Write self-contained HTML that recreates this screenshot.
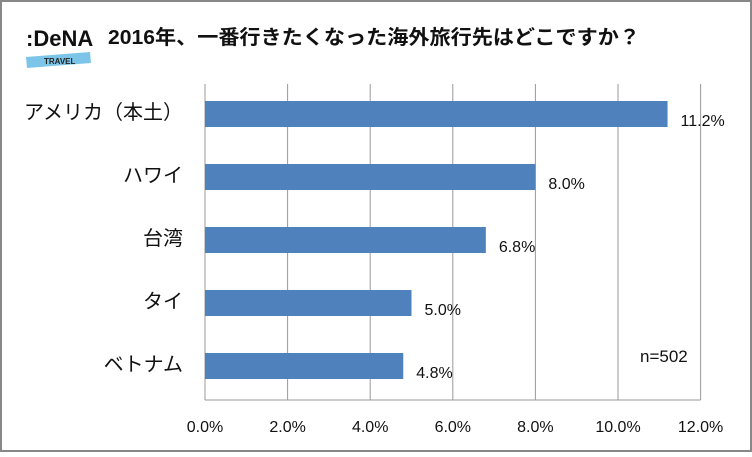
<!DOCTYPE html>
<html><head><meta charset="utf-8"><style>
body{margin:0;background:#fff}
svg text{font-family:"Liberation Sans","Noto Sans CJK JP",sans-serif}
</style></head><body>
<svg width="752" height="452" viewBox="0 0 752 452">
<rect x="1" y="1" width="750" height="450" fill="#fff" stroke="#888" stroke-width="2"/>
<g>
<text x="26" y="46" font-size="22" font-weight="bold" fill="#111" font-family="Liberation Sans, sans-serif">:DeNA</text>
<polygon points="26,57 90,52 91,63 27,68" fill="#7cc5e8"/>
<text x="44" y="64" font-size="8" font-weight="bold" fill="#222">TRAVEL</text>
</g>
<text x="108" y="44" font-size="20" font-weight="bold" fill="#111" textLength="532" lengthAdjust="spacingAndGlyphs">2016年、一番行きたくなった海外旅行先はどこですか？</text>
<g id="grid"></g><g id="bars"></g><g id="labels"></g>
<text x="640" y="362" font-size="17" fill="#111">n=502</text>
</svg>
<script>
const categories=["アメリカ（本土）","ハワイ","台湾","タイ","ベトナム"];
const values=[11.2,8.0,6.8,5.0,4.8];
const valueLabels=["11.2%","8.0%","6.8%","5.0%","4.8%"];
const ticks=[0,2,4,6,8,10,12];
const tickLabels=["0.0%","2.0%","4.0%","6.0%","8.0%","10.0%","12.0%"];
const NS="http://www.w3.org/2000/svg";
const x=v=>205+v*41.3;
const yc=i=>114+i*63;
function mk(t,a,p,txt){const e=document.createElementNS(NS,t);for(const k in a)e.setAttribute(k,a[k]);if(txt!=null)e.textContent=txt;p.appendChild(e);return e;}
const g=document.getElementById('grid'),b=document.getElementById('bars'),l=document.getElementById('labels');
ticks.forEach((t,i)=>{
 const ln=mk('line',{x1:x(t),x2:x(t),y1:84,y2:400,stroke:'#999','stroke-width':1},g);
 
 
 const tx=mk('text',{x:x(t),y:432,'font-size':16,'text-anchor':'middle',fill:'#111'},l,tickLabels[i]);
 
 
});
const ax=mk('line',{x1:x(0),x2:x(12),y1:400,y2:400,stroke:'#999','stroke-width':1},g);


categories.forEach((c,i)=>{
 const r=mk('rect',{x:x(0),y:yc(i)-13,width:x(values[i])-x(0),height:26,fill:'#4f81bd'},b);
 
 
 const v=mk('text',{x:x(values[i])+13,y:yc(i)+12,'font-size':16,fill:'#111'},l,valueLabels[i]);
 
 
 const ct=mk('text',{x:183,y:yc(i)+5,'font-size':20,'text-anchor':'end',fill:'#111'},l,c);
 
 
});
</script>
</body></html>
